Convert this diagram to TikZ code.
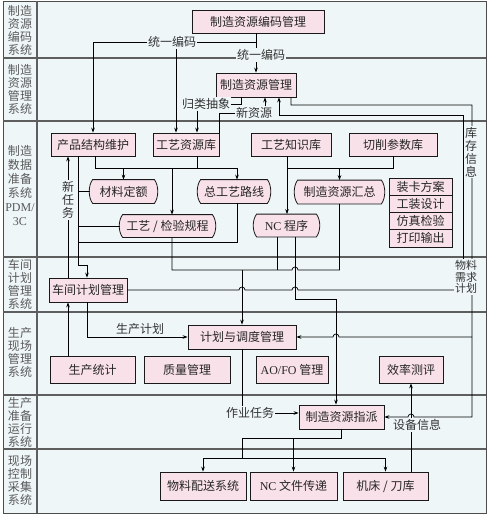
\documentclass[tikz,border=0pt]{standalone}
\usepackage{fontspec}
\setmainfont{Noto Sans CJK SC}
\newfontfamily\latin{Liberation Serif}
\usetikzlibrary{arrows.meta,calc}

\definecolor{bgcyan}{HTML}{EEF6F8}
\definecolor{boxpink}{HTML}{F9E1E9}
\definecolor{lanegray}{HTML}{5E5E5E}
\definecolor{labelgray}{HTML}{5A5A5A}

\pgfdeclarelayer{background}
\pgfsetlayers{background,main}

\tikzset{
  sysbox/.style={draw=black!90, fill=boxpink, line width=0.8pt, inner sep=0pt,
    font=\fontsize{12}{14}\selectfont, text=black!85},
  tapebox/.style={sysbox, draw=none, fill=none},
  lanename/.style={text=labelgray, align=center, inner sep=0pt,
    font=\fontsize{12}{13}\selectfont},
  flowlabel/.style={fill=bgcyan, inner sep=1pt, align=center,
    font=\fontsize{12}{13}\selectfont, text=black!80},
  lane/.style={draw=lanegray, line width=1.1pt},
  wire/.style={line width=0.7pt},
}

% outline with bowed sides behind a tapebox node
\newcommand{\tapeframe}[1]{%
  \begin{pgfonlayer}{background}
    \draw[fill=boxpink, draw=black!90, line width=0.8pt]
      (#1.north west) .. controls +(-4.5,6) and +(-4.5,-6) .. (#1.south west)
      -- (#1.south east) .. controls +(4.5,-6) and +(4.5,6) .. (#1.north east) -- cycle;
  \end{pgfonlayer}}

\begin{document}
\begin{tikzpicture}[x=1pt, y=-1pt, >={Stealth[length=5pt,width=3.6pt]}]
\useasboundingbox (0,0) rectangle (488,516);
\begin{pgfonlayer}{background}
  \draw[fill=bgcyan, draw=black!70, line width=0.8pt] (3,1) rectangle (486,513);
\end{pgfonlayer}

% swim lanes
\foreach \y in {58,121,257,312,395,449}
  \draw[lane] (3,\y) -- (486,\y);
\draw[lane] (37,1) -- (37,513);

\node[lanename] (lane1) at (20,30) {制造\\资源\\编码\\系统};
\node[lanename] (lane2) at (20,89) {制造\\资源\\管理\\系统};
\node[lanename, font=\fontsize{12}{14}\selectfont] (lane3) at (20,186) {制造\\数据\\准备\\系统\\{\latin PDM/}\\{\latin 3C}};
\node[lanename] (lane4) at (20,284) {车间\\计划\\管理\\系统};
\node[lanename] (lane5) at (20,352) {生产\\现场\\管理\\系统};
\node[lanename] (lane6) at (20,422) {生产\\准备\\运行\\系统};
\node[lanename] (lane7) at (20,480) {现场\\控制\\采集\\系统};

% boxes
\node[sysbox, minimum width=132, minimum height=23] (enc) at (258,21.5) {制造资源编码管理};
\node[sysbox, minimum width=80, minimum height=24] (rmgr) at (256,85) {制造资源管理};
\node[sysbox, minimum width=84, minimum height=23] (prod) at (93,144.5) {产品结构维护};
\node[sysbox, minimum width=66, minimum height=23] (plib) at (186,144.5) {工艺资源库};
\node[sysbox, minimum width=80, minimum height=23] (klib) at (291,144.5) {工艺知识库};
\node[sysbox, minimum width=88, minimum height=23] (cut) at (393,144.5) {切削参数库};
\node[tapebox, minimum width=61, minimum height=23] (mat) at (123.5,191.5) {材料定额};
\node[tapebox, minimum width=66, minimum height=23] (route) at (234,191.5) {总工艺路线};
\node[tapebox, minimum width=83, minimum height=23] (rsum) at (339.5,192) {制造资源汇总};
\node[tapebox, minimum width=89, minimum height=22] (insp) at (167.5,226) {工艺 / 检验规程};
\node[tapebox, minimum width=59, minimum height=22] (nc) at (286.5,225.5) {{\latin NC} 程序};
\tapeframe{mat}
\tapeframe{route}
\tapeframe{rsum}
\tapeframe{insp}
\tapeframe{nc}
\node[sysbox, minimum width=63, minimum height=17.25] (fix1) at (420.5,186.6) {装卡方案};
\node[sysbox, minimum width=63, minimum height=17.25] (fix2) at (420.5,203.9) {工装设计};
\node[sysbox, minimum width=63, minimum height=17.25] (fix3) at (420.5,221.1) {仿真检验};
\node[sysbox, minimum width=63, minimum height=17.25] (fix4) at (420.5,238.4) {打印输出};
\node[sysbox, minimum width=78, minimum height=24] (shop) at (88,290) {车间计划管理};
\node[sysbox, minimum width=108, minimum height=24] (sched) at (242,337) {计划与调度管理};
\node[sysbox, minimum width=85, minimum height=27] (stat) at (92.5,369.5) {生产统计};
\node[sysbox, minimum width=86, minimum height=27] (qual) at (187,369.5) {质量管理};
\node[sysbox, minimum width=72, minimum height=27] (aofo) at (292,369.5) {{\latin AO/FO} 管理};
\node[sysbox, minimum width=64, minimum height=27] (eff) at (411,369.5) {效率测评};
\node[sysbox, minimum width=85, minimum height=24] (assign) at (341.5,417) {制造资源指派};
\node[sysbox, minimum width=86, minimum height=28] (mds) at (203,486) {物料配送系统};
\node[sysbox, minimum width=87, minimum height=28] (ncf) at (293.5,486) {{\latin NC} 文件传递};
\node[sysbox, minimum width=85, minimum height=28] (mach) at (385.5,486) {机床 / 刀库};

% rails
\coordinate (ycode) at (0,42);
\coordinate (ymrp) at (0,115);
\coordinate (yinv) at (0,105);
\coordinate (ybus) at (0,168);
\coordinate (yroute) at (0,242);
\coordinate (yshop) at (0,265);
\coordinate (ypool) at (0,270);
\coordinate (yncout) at (0,299);
\coordinate (ydisp) at (0,438);
\coordinate (ydist) at (0,458);
\coordinate (xcode) at (176,0);
\coordinate (xplib) at (197,0);
\coordinate (xnew) at (219,0);
\coordinate (xcls) at (241,0);
\coordinate (xnewin) at (265,0);
\coordinate (xmrpin) at (279,0);
\coordinate (xinvout) at (291,0);
\coordinate (xmrp) at (463,0);
\coordinate (xinv) at (472,0);
\coordinate (xtask) at (68,0);
\coordinate (xprod) at (78,0);
\coordinate (xshop) at (87,0);
\coordinate (xbus) at (95,0);
\coordinate (xinsp) at (172,0);
\coordinate (xroute) at (237,0);
\coordinate (xkl) at (287,0);
\coordinate (xncl) at (277,0);
\coordinate (xncr) at (295,0);
\coordinate (xasg) at (336,0);

% coding and resource management
\draw[wire, ->] (enc.south -| rmgr.north) -- (rmgr.north);
\draw[wire, ->] (rmgr.north |- ycode) -| (prod.north);
\draw[wire, ->] (xcode |- ycode) -- (xcode |- plib.north);
\node[flowlabel] (code1) at (172,42) {统一编码};
\node[flowlabel] (code2) at (261,55) {统一编码};

\node[flowlabel] (cls) at (206,104) {归类抽象};
\draw[wire] (xcls |- rmgr.south) |- (cls.east);
\draw[wire, ->] (xplib |- cls.south) -- (xplib |- plib.north);
\node[flowlabel] (newres) at (254,113) {新资源};
\draw[wire] (xnew |- plib.north) |- (newres.west);
\draw[wire, ->] (xnewin |- newres.north) -- (xnewin |- rmgr.south);

\node[flowlabel, font=\fontsize{11}{11.5}\selectfont] (mrp) at (466,277) {物料\\需求\\计划};
\draw[wire, ->] (xmrp |- mrp.north) |- (xmrpin |- ymrp) -- (xmrpin |- rmgr.south);
\draw[wire, ->] (xinvout |- rmgr.south) |- (xinv |- yinv)
  |- ($(eff.south |- assign.east)+(3,0)$) arc[start angle=0, end angle=-180, radius=3]
  -- (assign.east);
\draw[wire, ->] (xinv |- sched.east) -- ($(xasg |- sched.east)+(3,0)$)
  arc[start angle=0, end angle=-180, radius=3] -- (sched.east);
\node[flowlabel] (inv) at (471,152) {库\\存\\信\\息};
\node[flowlabel, font=\fontsize{11}{11.5}\selectfont] (mrp) at (466,277) {物料\\需求\\计划};

% data preparation
\draw[wire, ->] (xbus |- prod.south) |- (xroute |- ybus) -- (xroute |- route.north);
\draw[wire] (xplib |- plib.south) -- (xplib |- ybus);
\draw[wire, ->] (mat.north |- ybus) -- (mat.north);
\draw[wire, ->] (xinsp |- ybus) -- (xinsp |- insp.north);
\draw[wire, ->] (xkl |- klib.south) -- (xkl |- nc.north);
\draw[wire] (xkl |- ybus) -| (cut.south);
\draw[wire, ->] (rsum.north |- ybus) -- (rsum.north);
\draw[wire, ->] (xprod |- prod.south) |- (xshop |- yshop) -- (xshop |- shop.north);
\draw[wire] (xprod |- mat.west) -- ($(mat.west)+(-3,0)$);
\draw[wire] (xprod |- insp.west) -- ($(insp.west)+(-3,0)$);
\draw[wire] (xroute |- route.south) |- (xprod |- yroute);

% workshop planning
\draw[wire, ->] (xtask |- shop.north) -- (xtask |- prod.south);
\node[flowlabel] (newtask) at (68,200) {新\\任\\务};
\draw[wire, ->] (xtask |- stat.north) -- (xtask |- shop.south);
\draw[wire] (xinsp |- insp.south) |- ($(xncr |- ypool)+(-3,0)$)
  arc[start angle=180, end angle=360, radius=3] -| (rsum.south);
\draw[wire] (xncl |- nc.south) -- (xncl |- ypool);
\draw[wire, ->] (sched.north |- ypool) -- (sched.north);
\draw[wire, ->] (xncr |- nc.south) |- (xasg |- yncout) -- (xasg |- assign.north);
\draw[wire] (shop.east) -- ($(sched.north |- shop.east)+(-3,0)$)
  arc[start angle=180, end angle=360, radius=3] -- ($(xncr |- shop.east)+(-3,0)$)
  arc[start angle=180, end angle=360, radius=3] -- (mrp.west |- shop.east);
\draw[wire, ->] (xshop |- shop.south) |- (sched.west);
\node[font=\fontsize{12}{13}\selectfont, text=black!80] (plan) at (140,329) {生产计划};

% shop floor and execution
\node[flowlabel] (task) at (250,413) {作业任务};
\draw[wire] (sched.south) -- (sched.south |- task.north);
\draw[wire, ->] (task.east) -- (task.east -| assign.west);
\draw[wire] (assign.south) |- (sched.south |- ydisp) -- (sched.south |- ydist);
\draw[wire, ->] (ncf.north |- ydisp) -- (ncf.north);
\draw[wire, ->] (mds.north |- ydist) -| (mds.north);
\draw[wire, ->] (mds.north |- ydist) -| (mach.north);
\draw[wire, ->] (eff.south |- mach.north) -- (eff.south);
\node[flowlabel] (dev) at (417,425) {设备信息};
\end{tikzpicture}
\end{document}
